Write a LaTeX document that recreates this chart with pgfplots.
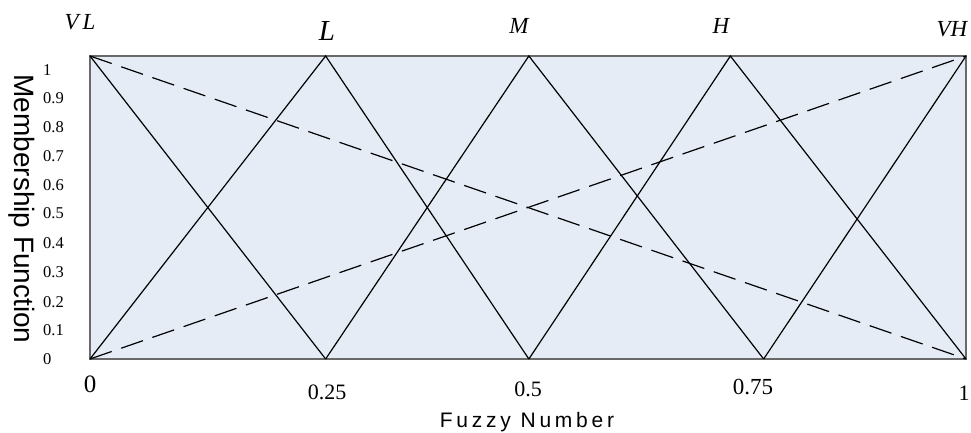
\documentclass[border=0pt]{standalone}
\usepackage{fontspec}
\setmainfont{Liberation Serif}
\setsansfont{Liberation Sans}
\usepackage{pgfplots}
\pgfplotsset{compat=1.18}
\definecolor{bgblue}{RGB}{230,236,246}
\definecolor{boxgray}{RGB}{105,105,105}
\begin{document}
\begin{tikzpicture}[x=1pt,y=1pt]
\useasboundingbox (0,0) rectangle (971,433);
\begin{axis}[
  at={(90pt,74pt)}, anchor=south west,
  scale only axis, width=876pt, height=303pt,
  xmin=0, xmax=1, ymin=0, ymax=1,
  axis background/.style={fill=bgblue},
  axis line style={boxgray, line width=1.4pt},
  xtick=\empty,
  ytick={0,0.096,0.188,0.287,0.383,0.482,0.574,0.670,0.766,0.861,0.954},
  yticklabels={0,0.1,0.2,0.3,0.4,0.5,0.6,0.7,0.8,0.9,1},
  major tick length=0pt,
  yticklabel style={anchor=west, inner sep=0pt, xshift=-47pt, font=\fontsize{16.5}{16.5}\selectfont},
  clip=false,
]
\addplot[black, line width=1.2pt] coordinates {(0,1) (0.269,0)};
\addplot[black, line width=1.2pt] coordinates {(0,0) (0.269,1) (0.501,0)};
\addplot[black, line width=1.2pt] coordinates {(0.269,0) (0.501,1) (0.769,0)};
\addplot[black, line width=1.2pt] coordinates {(0.501,0) (0.731,1) (1,0)};
\addplot[black, line width=1.2pt] coordinates {(0.769,0) (1,1)};
\addplot[black, line width=1.2pt, dash pattern=on 23pt off 10pt] coordinates {(0,1) (1,0)};
\addplot[black, line width=1.2pt, dash pattern=on 23pt off 10pt] coordinates {(0,0) (1,1)};
\end{axis}
% x tick labels
\node[anchor=base, inner sep=0pt, font=\fontsize{25}{25}\selectfont] at (90,40) {0};
\node[anchor=base, inner sep=0pt, font=\fontsize{22}{22}\selectfont] at (327,33) {0.25};
\node[anchor=base, inner sep=0pt, font=\fontsize{22}{22}\selectfont] at (528,36) {0.5};
\node[anchor=base, inner sep=0pt, font=\fontsize{23}{23}\selectfont] at (753,38) {0.75};
\node[anchor=base, inner sep=0pt, font=\fontsize{22}{22}\selectfont] at (964,32) {1};
% axis titles
\node[anchor=base, inner sep=0pt, font=\sffamily\fontsize{21}{21}\selectfont\addfontfeature{LetterSpace=18}] at (527,5) {Fuzzy Number};
\node[rotate=-90, inner sep=0pt, font=\sffamily\fontsize{28}{28}\selectfont] at (22,224) {Membership Function};
% linguistic labels
\node[inner sep=0pt, font=\itshape\fontsize{23}{23}\selectfont] at (80,411) {V\,L};
\node[inner sep=0pt, font=\itshape\fontsize{29}{29}\selectfont] at (327,402) {L};
\node[inner sep=0pt, font=\itshape\fontsize{23}{23}\selectfont] at (519,407) {M};
\node[inner sep=0pt, font=\itshape\fontsize{23}{23}\selectfont] at (721,407) {H};
\node[inner sep=0pt, font=\itshape\fontsize{23}{23}\selectfont] at (952,404) {VH};
\end{tikzpicture}
\end{document}
